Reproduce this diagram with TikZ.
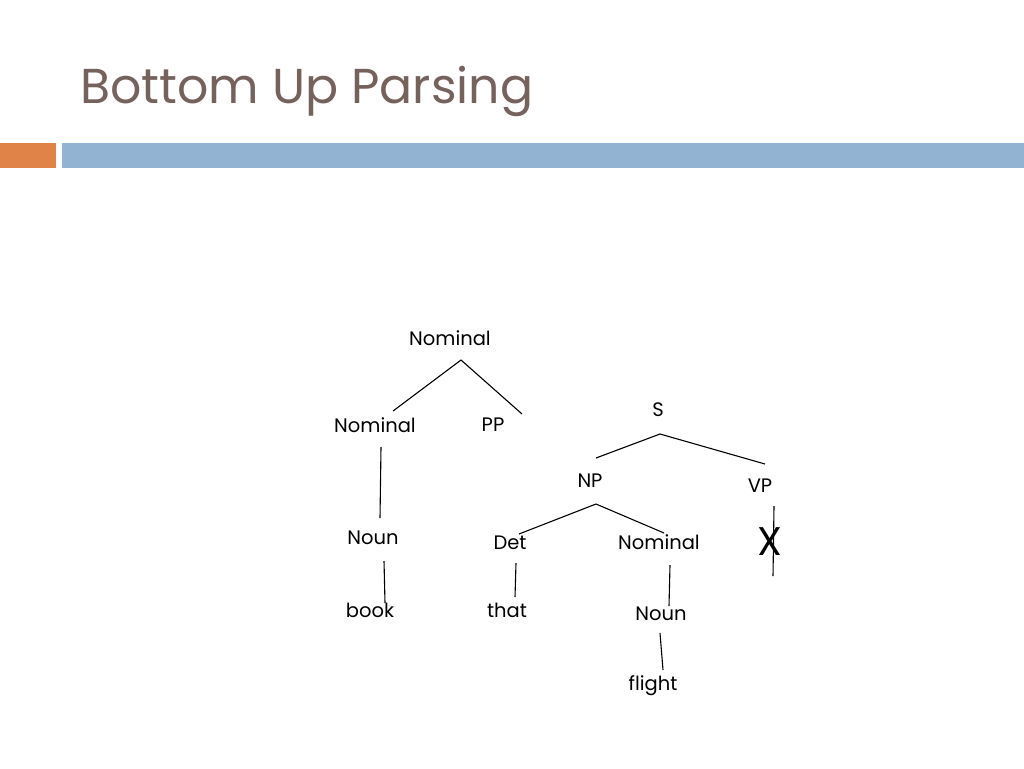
\documentclass[tikz,border=0pt]{standalone}
\usepackage{fontspec}
\setmainfont{Poppins}
\definecolor{titlebrown}{RGB}{117,98,92}
\definecolor{barorange}{RGB}{224,131,72}
\definecolor{barblue}{RGB}{147,179,211}
\begin{document}
\begin{tikzpicture}[x=1pt,y=-1pt,
  word/.style={inner sep=0pt,font=\fontsize{19.5}{22}\selectfont},
  branch/.style={line width=1.1pt}]
\useasboundingbox[fill=white] (0,0) rectangle (1024,768);
% title and bars
\node[anchor=base west,inner sep=0pt,text=titlebrown,font=\fontsize{49}{56}\selectfont] (title) at (80,103) {Bottom Up Parsing};
\fill[barorange] (0,143) rectangle (56,168);
\fill[barblue] (62,143) rectangle (1024,168);
% left tree
\node[word] (nomtop) at (450,338) {Nominal};
\node[word] (nomleft) at (375,425) {Nominal};
\node[word] (pp) at (493,425) {PP};
\node[word] (nounleft) at (373,538) {Noun};
\node[word] (book) at (370,610) {book};
\draw[branch] ([shift={(11,22)}]nomtop.center) -- ([shift={(18,-14)}]nomleft.center);
\draw[branch] ([shift={(11,22)}]nomtop.center) -- ([shift={(29,-11)}]pp.center);
\draw[branch] ([shift={(6,22)}]nomleft.center) -- ([shift={(7,-20)}]nounleft.center);
\draw[branch] ([shift={(11,23)}]nounleft.center) -- ([shift={(15,-7)}]book.center);
% right tree
\node[word] (s) at (658,410) {S};
\node[word] (np) at (590,481) {NP};
\node[word] (vp) at (760,486) {VP};
\node[word] (det) at (510,543) {Det};
\node[word] (that) at (507,610) {that};
\node[word] (nomright) at (659,542) {Nominal};
\node[word] (nounright) at (661,614) {Noun};
\node[word] (flight) at (653,686) {flight};
\draw[branch] ([shift={(2,24)}]s.center) -- ([shift={(6,-23)}]np.center);
\draw[branch] ([shift={(2,24)}]s.center) -- ([shift={(5,-22)}]vp.center);
\draw[branch] ([shift={(6,23)}]np.center) -- ([shift={(9,-9)}]det.center);
\draw[branch] ([shift={(6,23)}]np.center) -- ([shift={(5,-9)}]nomright.center);
\draw[branch] ([shift={(6,20)}]det.center) -- ([shift={(8,-13)}]that.center);
\draw[branch] ([shift={(11,23)}]nomright.center) -- ([shift={(8,-8)}]nounright.center);
\draw[branch] ([shift={(-1,19)}]nounright.center) -- ([shift={(10,-16)}]flight.center);
% dead end under VP
\draw[branch] ([shift={(14,20)}]vp.center) -- ([shift={(13,90)}]vp.center);
\node[inner sep=0pt,font=\fontsize{40}{44}\selectfont] (cross) at (770,542) {X};
\end{tikzpicture}
\end{document}
